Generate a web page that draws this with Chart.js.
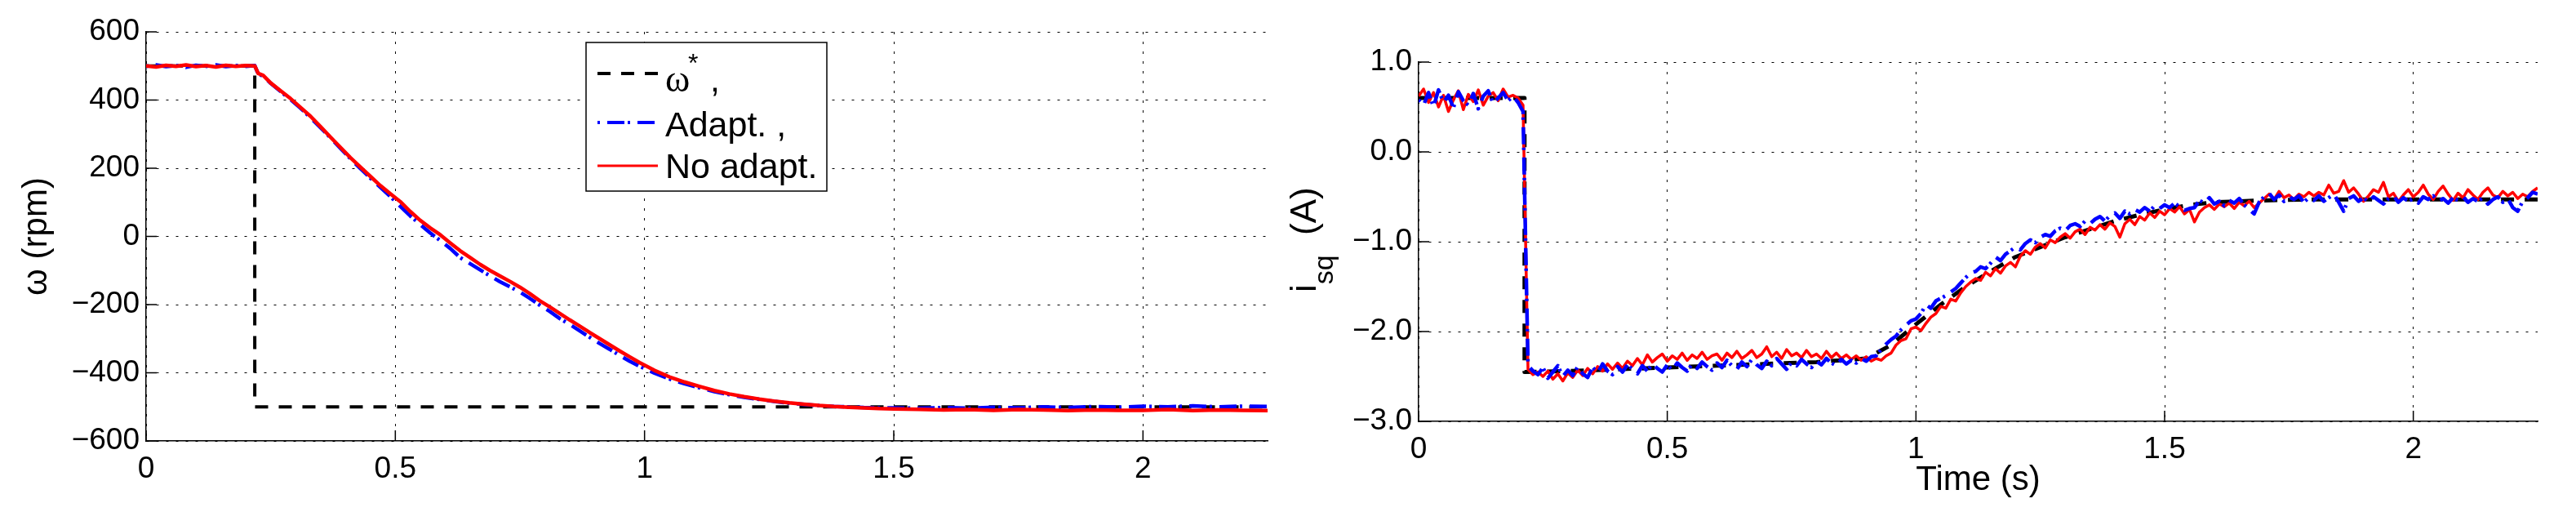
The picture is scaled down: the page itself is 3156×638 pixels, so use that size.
<!DOCTYPE html>
<html>
<head>
<meta charset="utf-8">
<title>Speed and current response</title>
<script src="https://cdn.jsdelivr.net/npm/chart.js@4.4.1/dist/chart.umd.min.js"></script>
<style>
  html, body { margin: 0; padding: 0; background: #fff; }
  body { width: 3156px; height: 638px; position: relative; overflow: hidden; }
  canvas { position: absolute; top: 0; }
  #speedChart { left: 0; }
  #currentChart { left: 1570px; }
</style>
</head>
<body>
<canvas id="speedChart" width="1570" height="638"></canvas>
<canvas id="currentChart" width="1586" height="638"></canvas>
<script>
'use strict';

// DATA - speed plot (rpm)
let refSpeedTime = [0, 0.218, 0.218, 2.25];
let refSpeed = [500, 500, -500, -500];

let leftTime = [
  0, 0.02, 0.04, 0.06, 0.08, 0.10, 0.12, 0.14, 0.16, 0.18, 0.20, 0.218,
  0.225, 0.235,
  0.25, 0.27, 0.29, 0.31, 0.33, 0.35, 0.37, 0.39, 0.41, 0.43,
  0.45, 0.47, 0.49, 0.51, 0.53, 0.55, 0.57, 0.59, 0.61, 0.63,
  0.65, 0.67, 0.69, 0.71, 0.73, 0.75, 0.77, 0.79, 0.81, 0.83,
  0.85, 0.87, 0.89, 0.91, 0.93, 0.95, 0.97, 0.99,
  1.02, 1.05, 1.08, 1.11, 1.14, 1.17, 1.20, 1.23, 1.26, 1.29,
  1.32, 1.35, 1.38, 1.41, 1.44, 1.47, 1.50,
  1.55, 1.60, 1.65, 1.70, 1.75, 1.80, 1.85, 1.90, 1.95, 2.00,
  2.05, 2.10, 2.15, 2.20, 2.25
];
let leftNoAdapt = [
  500, 497, 502, 499, 503, 498, 501, 497, 502, 499, 501, 500,
  478, 472,
  450, 427, 404, 378, 352, 322, 291, 261, 231, 203,
  176, 149, 125, 102, 73, 47, 25, 5, -19, -42,
  -62, -82, -100, -116, -132, -149, -168, -189, -207, -226,
  -245, -263, -282, -300, -318, -336, -353, -370,
  -393, -412, -427, -440, -452, -462, -470, -477, -483, -488,
  -492, -496, -499, -501, -503, -505, -506,
  -507, -509, -508, -510, -508, -509, -511, -509, -510, -510,
  -508, -511, -509, -510, -511
];
let leftAdapt = [
  499, 503, 498, 501, 496, 502, 499, 503, 498, 501, 499, 501,
  476, 470,
  449, 425, 401, 376, 348, 319, 289, 258, 228, 199,
  171, 144, 117, 88, 60, 35, 10, -12, -35, -62,
  -80, -98, -116, -133, -148, -163, -182, -202, -220, -241,
  -258, -277, -296, -314, -331, -349, -366, -381,
  -401, -418, -432, -444, -455, -464, -472, -478, -484, -489,
  -493, -496, -499, -500, -502, -503, -503,
  -504, -502, -504, -501, -503, -500, -502, -499, -501, -498,
  -500, -497, -500, -498, -499
];

// DATA - current plot (A)
let refCurrentTime = [0, 0.213, 0.213, 0.3, 0.4, 0.5, 0.6, 0.7, 0.8, 0.9, 0.95, 1.0, 1.05, 1.1,
  1.15, 1.2, 1.25, 1.3, 1.35, 1.4, 1.45, 1.5, 1.55, 1.6, 1.7, 1.8, 2.0, 2.25];
let refCurrent = [0.6, 0.6, -2.45, -2.44, -2.42, -2.40, -2.38, -2.36, -2.34, -2.30, -2.15, -1.92, -1.70, -1.50,
  -1.33, -1.17, -1.06, -0.95, -0.86, -0.77, -0.70, -0.64, -0.59, -0.56, -0.54, -0.53, -0.53, -0.53];

let rightTime = [
  0, 0.01, 0.02, 0.03, 0.04, 0.05, 0.06, 0.07, 0.08, 0.09,
  0.10, 0.11, 0.12, 0.13, 0.14, 0.15, 0.16, 0.17, 0.18, 0.19,
  0.20, 0.21, 0.22, 0.23, 0.24, 0.25, 0.26, 0.27, 0.28, 0.29,
  0.30, 0.31, 0.32, 0.33, 0.34, 0.35, 0.36, 0.37, 0.38, 0.39,
  0.40, 0.41, 0.42, 0.43, 0.44, 0.45, 0.46, 0.47, 0.48, 0.49,
  0.50, 0.51, 0.52, 0.53, 0.54, 0.55, 0.56, 0.57, 0.58, 0.59,
  0.60, 0.61, 0.62, 0.63, 0.64, 0.65, 0.66, 0.67, 0.68, 0.69,
  0.70, 0.71, 0.72, 0.73, 0.74, 0.75, 0.76, 0.77, 0.78, 0.79,
  0.80, 0.81, 0.82, 0.83, 0.84, 0.85, 0.86, 0.87, 0.88, 0.89,
  0.90, 0.91, 0.92, 0.93, 0.94, 0.95, 0.96, 0.97, 0.98, 0.99,
  1.00, 1.01, 1.02, 1.03, 1.04, 1.05, 1.06, 1.07, 1.08, 1.09,
  1.10, 1.11, 1.12, 1.13, 1.14, 1.15, 1.16, 1.17, 1.18, 1.19,
  1.20, 1.21, 1.22, 1.23, 1.24, 1.25, 1.26, 1.27, 1.28, 1.29,
  1.30, 1.31, 1.32, 1.33, 1.34, 1.35, 1.36, 1.37, 1.38, 1.39,
  1.40, 1.41, 1.42, 1.43, 1.44, 1.45, 1.46, 1.47, 1.48, 1.49,
  1.50, 1.51, 1.52, 1.53, 1.54, 1.55, 1.56, 1.57, 1.58, 1.59,
  1.60, 1.61, 1.62, 1.63, 1.64, 1.65, 1.66, 1.67, 1.68, 1.69,
  1.70, 1.71, 1.72, 1.73, 1.74, 1.75, 1.76, 1.77, 1.78, 1.79,
  1.80, 1.81, 1.82, 1.83, 1.84, 1.85, 1.86, 1.87, 1.88, 1.89,
  1.90, 1.91, 1.92, 1.93, 1.94, 1.95, 1.96, 1.97, 1.98, 1.99,
  2.00, 2.01, 2.02, 2.03, 2.04, 2.05, 2.06, 2.07, 2.08, 2.09,
  2.10, 2.11, 2.12, 2.13, 2.14, 2.15, 2.16, 2.17, 2.18, 2.19,
  2.20, 2.21, 2.22, 2.23, 2.24, 2.25
];
let rightNoAdapt = [
  0.62, 0.70, 0.55, 0.66, 0.50, 0.63, 0.45, 0.58, 0.68, 0.47,
  0.64, 0.56, 0.69, 0.52, 0.62, 0.66, 0.57, 0.70, 0.61, 0.63,
  0.60, 0.52, -2.42, -2.48, -2.45, -2.50, -2.44, -2.53, -2.47, -2.55,
  -2.46, -2.51, -2.43, -2.49, -2.41, -2.47, -2.39, -2.44, -2.36, -2.42,
  -2.35, -2.41, -2.33, -2.38, -2.30, -2.37, -2.26, -2.34, -2.29, -2.25,
  -2.33, -2.27, -2.31, -2.24, -2.32, -2.26, -2.30, -2.23, -2.31, -2.27,
  -2.25, -2.32, -2.24, -2.29, -2.22, -2.30, -2.26, -2.21, -2.29, -2.25,
  -2.17, -2.28, -2.23, -2.30, -2.20, -2.27, -2.24, -2.29, -2.21, -2.28,
  -2.25, -2.30, -2.22, -2.29, -2.24, -2.30, -2.26, -2.31, -2.27, -2.32,
  -2.28, -2.33, -2.30, -2.32, -2.27, -2.24, -2.15, -2.10, -2.08, -1.97,
  -1.95, -1.99, -1.91, -1.84, -1.80, -1.72, -1.74, -1.64, -1.66, -1.57,
  -1.50, -1.45, -1.41, -1.43, -1.34, -1.38, -1.30, -1.35, -1.27, -1.23,
  -1.28, -1.16, -1.10, -1.14, -1.06, -1.02, -1.07, -0.98, -1.01, -0.95,
  -0.91, -0.96, -0.89, -0.86, -0.92, -0.84, -0.87, -0.81, -0.86, -0.79,
  -0.83, -0.95, -0.80, -0.75, -0.81, -0.72, -0.76, -0.68, -0.73, -0.66,
  -0.70, -0.63, -0.67, -0.61, -0.69, -0.64, -0.78, -0.67, -0.62, -0.59,
  -0.64, -0.58, -0.61, -0.57, -0.63, -0.56, -0.60, -0.55, -0.62, -0.57,
  -0.52, -0.47, -0.53, -0.44, -0.51, -0.48, -0.53, -0.47, -0.50, -0.45,
  -0.49, -0.45, -0.48, -0.37, -0.46, -0.44, -0.32, -0.45, -0.40, -0.47,
  -0.55, -0.49, -0.42, -0.45, -0.34, -0.50, -0.46, -0.55, -0.48, -0.42,
  -0.50, -0.45, -0.37, -0.47, -0.53, -0.44, -0.38, -0.47, -0.54, -0.46,
  -0.51, -0.42, -0.48, -0.53, -0.45, -0.40, -0.48, -0.51, -0.44, -0.49,
  -0.45, -0.52, -0.47, -0.50, -0.44, -0.40
];
let rightAdapt = [
  0.58, 0.52, 0.66, 0.50, 0.69, 0.55, 0.63, 0.49, 0.67, 0.57,
  0.52, 0.65, 0.48, 0.62, 0.68, 0.54, 0.60, 0.66, 0.57, 0.62,
  0.55, 0.45, -2.38, -2.44, -2.48, -2.40, -2.52, -2.45, -2.38, -2.50,
  -2.43, -2.49, -2.39, -2.47, -2.51, -2.40, -2.46, -2.36, -2.44, -2.48,
  -2.39, -2.45, -2.37, -2.42, -2.47, -2.38, -2.44, -2.36, -2.41, -2.45,
  -2.37, -2.43, -2.35, -2.40, -2.44, -2.36, -2.41, -2.34, -2.39, -2.43,
  -2.35, -2.40, -2.32, -2.38, -2.42, -2.34, -2.39, -2.31, -2.37, -2.41,
  -2.33, -2.38, -2.30, -2.36, -2.42, -2.34, -2.38, -2.31, -2.36, -2.40,
  -2.33, -2.37, -2.30, -2.35, -2.38, -2.31, -2.36, -2.32, -2.35, -2.30,
  -2.33, -2.28, -2.27, -2.20, -2.14, -2.09, -2.05, -1.98, -1.93, -1.88,
  -1.86, -1.80, -1.70, -1.74, -1.66, -1.63, -1.60, -1.56, -1.52, -1.46,
  -1.40, -1.35, -1.33, -1.28, -1.30, -1.24, -1.17, -1.21, -1.14, -1.10,
  -1.06, -1.09, -1.02, -0.98, -1.01, -0.95, -0.92, -0.94, -0.88, -0.85,
  -0.88, -0.82, -0.80, -0.83, -0.77, -0.80, -0.75, -0.72, -0.77, -0.71,
  -0.68, -0.74, -0.66, -0.69, -0.64, -0.67, -0.62, -0.66, -0.60, -0.63,
  -0.59, -0.62, -0.57, -0.61, -0.65, -0.63, -0.62, -0.54, -0.57, -0.51,
  -0.58, -0.55, -0.60, -0.54, -0.57, -0.52, -0.59, -0.64, -0.69, -0.56,
  -0.50, -0.46, -0.53, -0.48, -0.55, -0.50, -0.53, -0.49, -0.56, -0.51,
  -0.54, -0.49, -0.55, -0.51, -0.47, -0.56, -0.66, -0.52, -0.49, -0.55,
  -0.51, -0.56, -0.50, -0.54, -0.58, -0.52, -0.49, -0.56, -0.51, -0.55,
  -0.52, -0.57, -0.50, -0.53, -0.49, -0.55, -0.52, -0.57, -0.51, -0.54,
  -0.50, -0.56, -0.52, -0.55, -0.51, -0.58, -0.53, -0.50, -0.56, -0.52,
  -0.62, -0.66, -0.55, -0.51, -0.45, -0.47
];

// TICKS
let timeTicks = [0, 0.5, 1, 1.5, 2];
let speedTicks = [-600, -400, -200, 0, 200, 400, 600];
let currentTicks = [-3, -2, -1, 0, 1];

// STYLES
const SANS = '"Liberation Sans", Arial, Helvetica, sans-serif';
const DASH = [16, 13];
const DASH_DOT = [3, 9, 21, 4];

Chart.defaults.font.family = SANS;
Chart.defaults.color = '#000';

function toPoints(xs, ys) {
  return xs.map((x, i) => ({ x: x, y: ys[i] }));
}

function minusSign(text) {
  return String(text).replace('-', '\u2212');
}

// shared axis setup, matlab look: dotted grid, solid left/bottom axis
function axis(min, max, tickValues, size, labelFn, padding) {
  return {
    type: 'linear',
    min: min,
    max: max,
    afterBuildTicks: s => { s.ticks = tickValues.map(v => ({ value: v })); },
    afterFit: s => {
      if (s.isHorizontal()) { s.height = size; } else { s.width = size; }
    },
    grid: { color: '#000', lineWidth: 1, drawTicks: false },
    border: { display: true, color: '#000', width: 1.5, dash: [3, 9] },
    ticks: { font: { size: 37 }, padding: padding, autoSkip: false, maxRotation: 0, callback: labelFn }
  };
}

// ticks pointing into the plot
const inwardTicks = {
  id: 'inwardTicks',
  afterDraw(chart) {
    let ctx = chart.ctx;
    let area = chart.chartArea;
    let xs = chart.scales.x;
    let ys = chart.scales.y;
    ctx.save();
    ctx.strokeStyle = '#000';
    ctx.lineWidth = 1.5;
    ctx.beginPath();
    xs.ticks.forEach(t => {
      let p = xs.getPixelForValue(t.value);
      ctx.moveTo(p, area.bottom);
      ctx.lineTo(p, area.bottom - 13);
    });
    ys.ticks.forEach(t => {
      let p = ys.getPixelForValue(t.value);
      ctx.moveTo(area.left, p);
      ctx.lineTo(area.left + 13, p);
    });
    ctx.stroke();
    ctx.restore();
  }
};

// boxed legend inside the speed plot
const speedLegend = {
  id: 'speedLegend',
  afterDraw(chart) {
    let ctx = chart.ctx;
    let sets = chart.data.datasets;
    ctx.save();
    ctx.fillStyle = '#fff';
    ctx.fillRect(718, 52, 295, 182);
    ctx.strokeStyle = '#000';
    ctx.lineWidth = 1.5;
    ctx.strokeRect(718, 52, 295, 182);

    let rows = [
      { set: sets[2], y: 90, width: 4 },
      { set: sets[1], y: 150, width: 4 },
      { set: sets[0], y: 203, width: 3 }
    ];
    rows.forEach(r => {
      ctx.beginPath();
      ctx.strokeStyle = r.set.borderColor;
      ctx.lineWidth = r.width;
      ctx.setLineDash(r.set.borderDash || []);
      ctx.moveTo(732, r.y);
      ctx.lineTo(806, r.y);
      ctx.stroke();
    });
    ctx.setLineDash([]);

    ctx.fillStyle = '#000';
    ctx.textBaseline = 'alphabetic';
    ctx.font = '46px "Liberation Serif", serif';
    ctx.fillText('\u03c9', 815, 112);
    ctx.font = '32px ' + SANS;
    ctx.fillText('*', 843, 88);
    ctx.font = '43px ' + SANS;
    ctx.fillText(',', 870, 112);
    ctx.fillText(sets[1].label, 815, 167);
    ctx.fillText(sets[0].label, 815, 218);
    ctx.restore();
  }
};

// y label of the current plot with subscript
const currentLabel = {
  id: 'currentLabel',
  afterDraw(chart) {
    let ctx = chart.ctx;
    ctx.save();
    ctx.translate(42, 358);
    ctx.rotate(-Math.PI / 2);
    ctx.fillStyle = '#000';
    ctx.textBaseline = 'alphabetic';
    ctx.font = '44px ' + SANS;
    ctx.fillText('i', 0, 0);
    let w = ctx.measureText('i').width;
    ctx.font = '34px ' + SANS;
    ctx.fillText('sq', w, 21);
    ctx.font = '44px ' + SANS;
    ctx.fillText('(A)', 70, 0);
    ctx.restore();
  }
};

const lineElements = {
  point: { radius: 0, hoverRadius: 0 },
  line: { tension: 0, fill: false, borderJoinStyle: 'round', borderCapStyle: 'butt' }
};

// SPEED CHART
let speedX = axis(0, 2.25, timeTicks, 98, v => String(v), 13);
let speedY = axis(-600, 600, speedTicks, 179, v => minusSign(v), 8);
speedY.title = { display: true, text: '\u03c9 (rpm)', font: { size: 42 }, padding: { top: 20, bottom: 0 } };

new Chart(document.getElementById('speedChart'), {
  type: 'line',
  data: {
    datasets: [
      { label: 'No adapt.', data: toPoints(leftTime, leftNoAdapt), borderColor: '#ff0000', borderWidth: 4.5, order: 1 },
      { label: 'Adapt. ,', data: toPoints(leftTime, leftAdapt), borderColor: '#0000ff', borderWidth: 4.5, borderDash: DASH_DOT, order: 2 },
      { label: '\u03c9* ,', data: toPoints(refSpeedTime, refSpeed), borderColor: '#000000', borderWidth: 4, borderDash: DASH, order: 3 }
    ]
  },
  options: {
    responsive: false,
    animation: false,
    elements: lineElements,
    layout: { padding: { left: 0, top: 39, right: 17, bottom: 0 } },
    plugins: { legend: { display: false }, tooltip: { enabled: false } },
    scales: { x: speedX, y: speedY }
  },
  plugins: [inwardTicks, speedLegend]
});

// CURRENT CHART
let currentX = axis(0, 2.25, timeTicks, 122, v => String(v), 13);
currentX.title = { display: true, text: 'Time (s)', font: { size: 42 }, padding: { top: 0, bottom: 24 } };
let currentY = axis(-3, 1, currentTicks, 168, v => minusSign(v.toFixed(1)), 8);

new Chart(document.getElementById('currentChart'), {
  type: 'line',
  data: {
    datasets: [
      { label: 'Adapt.', data: toPoints(rightTime, rightAdapt), borderColor: '#0000ff', borderWidth: 4.5, borderDash: DASH_DOT, order: 1 },
      { label: 'No adapt.', data: toPoints(rightTime, rightNoAdapt), borderColor: '#ff0000', borderWidth: 3.5, order: 2 },
      { label: 'Reference', data: toPoints(refCurrentTime, refCurrent), borderColor: '#000000', borderWidth: 5, borderDash: DASH, order: 3 }
    ]
  },
  options: {
    responsive: false,
    animation: false,
    elements: lineElements,
    layout: { padding: { left: 0, top: 76, right: 47, bottom: 0 } },
    plugins: { legend: { display: false }, tooltip: { enabled: false } },
    scales: { x: currentX, y: currentY }
  },
  plugins: [inwardTicks, currentLabel]
});
</script>
</body>
</html>
